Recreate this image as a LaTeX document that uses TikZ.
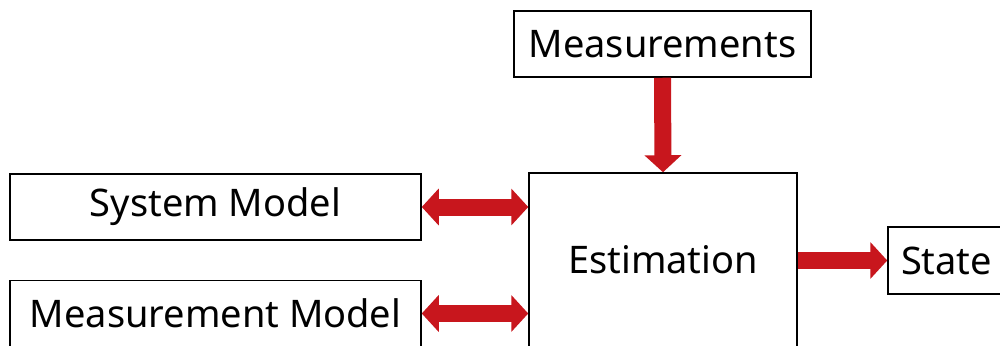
\documentclass[tikz,border=0pt]{standalone}
\usepackage{fontspec}
\setmainfont{Noto Sans}
\usepackage{tikz}
\usetikzlibrary{arrows.meta}

\definecolor{arrowred}{HTML}{C8161D}

\tikzset{
  block/.style={draw=black,line width=1.5pt,fill=white,inner sep=0pt,
    font=\fontsize{38}{42}\selectfont},
  bigarrow/.style={arrowred,line width=17pt},
  fattip/.tip={Triangle[length=17pt,width=36pt]}
}

\begin{document}
\begin{tikzpicture}[x=1pt,y=1pt]
  \clip (0,0) rectangle (1000,-345);
  \fill[white] (0,0) rectangle (1000,-345);
  \node[block,minimum width=297pt,minimum height=66pt] (meas) at (662.5,-44) {Measurements};
  \node[block,minimum width=268pt,minimum height=174pt] (est) at (663,-260) {Estimation};
  \node[block,minimum width=411pt,minimum height=66pt] (sys) at (215.5,-207) {System Model};
  \node[block,minimum width=411pt,minimum height=66pt] (mm) at (215.5,-313.5) {Measurement Model};
  \node[block,minimum width=116pt,minimum height=67pt,text width=90pt,align=left] (state) at (946,-260.5) {State};
  % arrows
  \draw[bigarrow,-{fattip}] (meas.south) -- (est.north);
  \draw[bigarrow,{fattip}-{fattip}] (sys.east) -- (est.west |- sys.east);
  \draw[bigarrow,{fattip}-{fattip}] (mm.east) -- (est.west |- mm.east);
  \draw[bigarrow,-{fattip}] (est.east |- state.west) -- (state.west);
\end{tikzpicture}
\end{document}
